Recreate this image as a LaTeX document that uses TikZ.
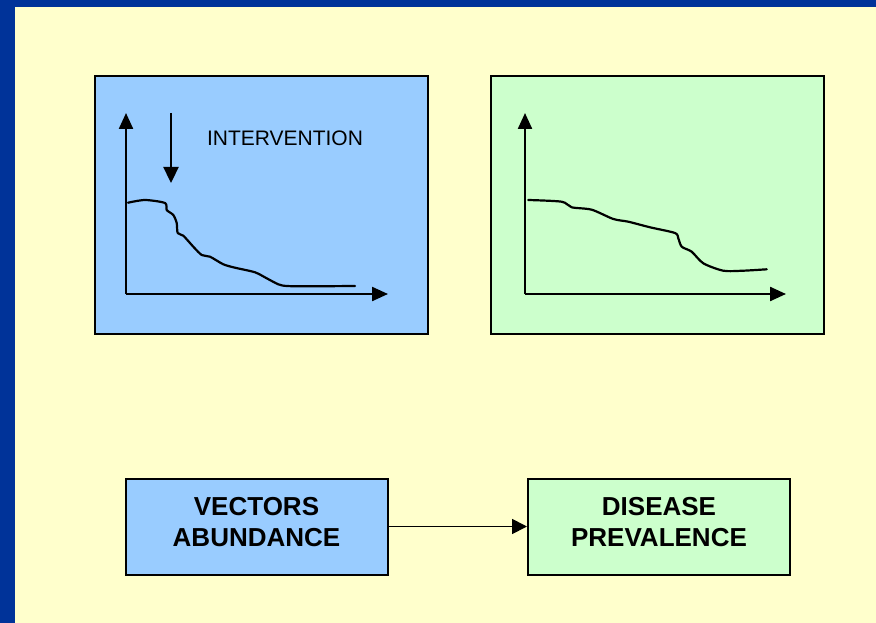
\documentclass[tikz,border=0pt]{standalone}
\usepackage{fontspec}
\setmainfont{Liberation Sans}
\usetikzlibrary{arrows.meta}
\definecolor{frameblue}{HTML}{003399}
\definecolor{paper}{HTML}{FFFFCC}
\definecolor{lightblue}{HTML}{99CCFF}
\definecolor{lightgreen}{HTML}{CCFFCC}
\tikzset{
  panel/.style={draw=black, line width=2.2pt, minimum width=333pt, minimum height=258pt, inner sep=0pt},
  factor/.style={draw=black, line width=2pt, minimum width=262pt, minimum height=96pt, inner sep=0pt},
  factortext/.style={align=center, inner sep=0pt, font=\fontsize{26}{31}\selectfont\bfseries},
  axis/.style={line width=2.3pt, -{Triangle[length=16pt,width=14pt]}},
  trend/.style={line width=2.2pt, line join=round, line cap=round},
  link/.style={line width=1.8pt, -{Triangle[length=15pt,width=15pt]}},
}
\begin{document}
\begin{tikzpicture}[x=1pt, y=-1pt]
\useasboundingbox (0,0) rectangle (876,623);
% slide background and frame
\fill[frameblue] (0,0) rectangle (876,623);
\fill[paper] (15,7) rectangle (876,623);

% upper panels
\node[panel, fill=lightblue] (vecpanel) at (261.5,205) {};
\node[panel, fill=lightgreen] (dispanel) at (657.5,205) {};

% vector abundance plot
\coordinate (vo) at (126,294);
\coordinate (vy) at (126,113);
\coordinate (vx) at (388,294);
\draw[axis] (vo) -- (vy);
\draw[axis] (vo) -- (vx);
\draw[trend] plot[smooth, tension=0.45] coordinates {
  (128,202.7) (145,200) (165,203) (166.7,210) (173.3,215) (176.7,223)
  (177.7,233) (183.3,235.7) (193.3,246.7) (201.7,255) (210,256.7)
  (223.3,264.3) (235,267.7) (255,272.3) (266.7,278.3) (278.3,284.3)
  (286.7,286) (308.3,286.3) (355,286)};
\coordinate (itop) at (171,113);
\coordinate (ibot) at (171,183);
\draw[line width=2.3pt, -{Triangle[length=16pt,width=15pt]}] (itop) -- (ibot);
\node[font=\fontsize{21}{25}\selectfont, inner sep=0pt] (intervention) at (285,138.5) {INTERVENTION};

% disease prevalence plot
\coordinate (do) at (525,294);
\coordinate (dy) at (525,113);
\coordinate (dx) at (786,294);
\draw[axis] (do) -- (dy);
\draw[axis] (do) -- (dx);
\draw[trend] plot[smooth, tension=0.45] coordinates {
  (528.3,200) (561.7,201.7) (571.7,207.3) (591.7,209.7) (613.3,219)
  (628.3,221.7) (650,227.3) (675,233) (678.3,238.3) (681.7,246.7)
  (691.7,251.7) (703.3,263.3) (723.3,270.7) (743.3,270.7) (766.7,269.3)};

% causal link
\node[factor, fill=lightblue] (vectors) at (256.5,526.5) {};
\node[factor, fill=lightgreen] (disease) at (659,526.5) {};
\node[factortext] (vectorslabel) at ([yshift=4pt]vectors.center) {VECTORS\\ABUNDANCE};
\node[factortext] (diseaselabel) at ([yshift=4pt]disease.center) {DISEASE\\PREVALENCE};
\draw[link] (vectors) -- (disease);
\end{tikzpicture}
\end{document}
